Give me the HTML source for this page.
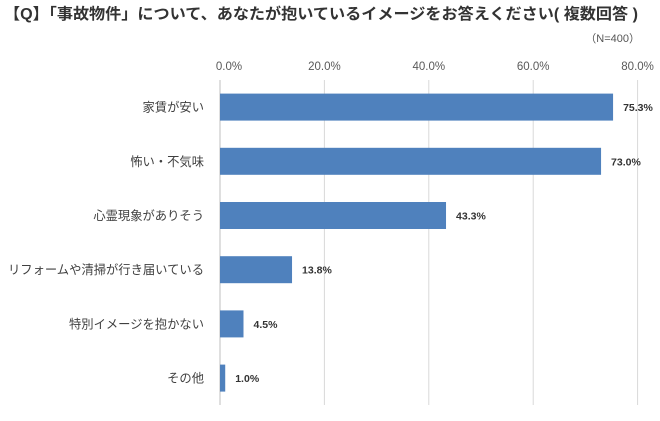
<!DOCTYPE html>
<html><head><meta charset="utf-8"><style>
body{margin:0;background:#fff;width:660px;height:416px;overflow:hidden;font-family:"Liberation Sans","Noto Sans CJK JP",sans-serif;}
</style></head><body>
<svg width="660" height="416" xmlns="http://www.w3.org/2000/svg">
<text x="4" y="19" font-size="15.5" font-weight="bold" fill="#333" textLength="634" lengthAdjust="spacingAndGlyphs" font-family="Liberation Sans, Noto Sans CJK JP, sans-serif">【Q】「事故物件」について、あなたが抱いているイメージをお答えください( 複数回答 )</text>
<text x="640" y="42" font-size="11" fill="#555" text-anchor="end" font-family="Liberation Sans, Noto Sans CJK JP, sans-serif">（N=400）</text>
<g id="grid"></g><g id="bars"></g>
</svg>
<script>
const categories=["家賃が安い","怖い・不気味","心霊現象がありそう","リフォームや清掃が行き届いている","特別イメージを抱かない","その他"];
const values=[75.3,73.0,43.3,13.8,4.5,1.0];
const ticks=[0,20,40,60,80];
const tickLabels=["0.0%","20.0%","40.0%","60.0%","80.0%"];
const NS="http://www.w3.org/2000/svg";
const X0=220,PX=5.22,GTOP=80,GBOT=405,BAND0=80,BAND=54.2,BARH=27;
function X(v){return X0+v*PX;}
function mk(t,a,p){const e=document.createElementNS(NS,t);for(const k in a)e.setAttribute(k,a[k]);p.appendChild(e);return e;}
const gridG=document.getElementById('grid'),barsG=document.getElementById('bars');
ticks.forEach((t,i)=>{
 const l=mk('line',{x1:X(t),x2:X(t),y1:GTOP,y2:GBOT,stroke:i==0?'#bfbfbf':'#d9d9d9','stroke-width':1},gridG);
 
 
 const tx=mk('text',{x:X(t)+(i==0?9:0),y:70,'font-size':11.5,fill:'#595959','text-anchor':'middle'},gridG);
 tx.textContent=tickLabels[i];
 
 
});
categories.forEach((c,i)=>{
 const cy=BAND0+BAND*(i+0.5);
 const r=mk('rect',{x:X0,y:cy-BARH/2,width:X(values[i])-X0,height:BARH,fill:'#4f81bd'},barsG);
 
 
 const lb=mk('text',{x:204,y:cy+4.5,'font-size':12.3,fill:'#404040','text-anchor':'end'},barsG);
 lb.textContent=c;
 
 
 const v=mk('text',{x:X(values[i])+10,y:cy+4,'font-size':10.5,'font-weight':'bold',fill:'#333'},barsG);
 v.textContent=values[i].toFixed(1)+'%';
 
 
});
</script>
</body></html>
